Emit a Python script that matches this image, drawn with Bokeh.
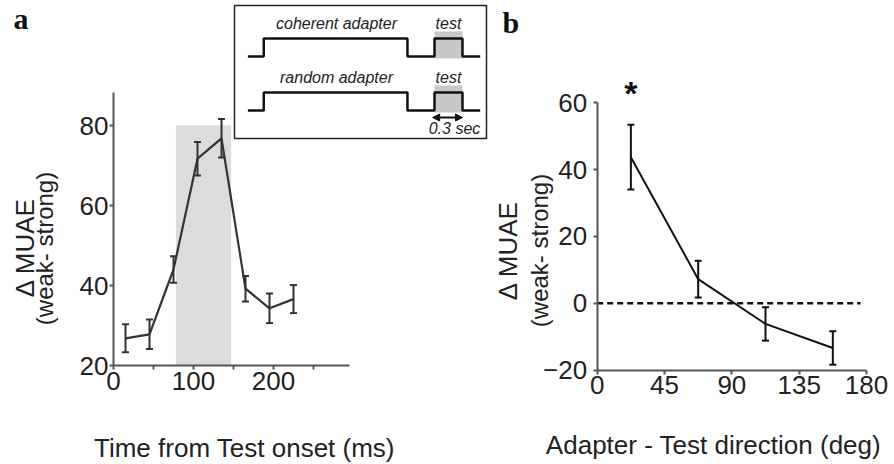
import numpy as np
from bokeh.plotting import figure
from bokeh.layouts import row
from bokeh.models import Range1d, LinearAxis, FixedTicker, Arrow, NormalHead
from bokeh.core.properties import value
from bokeh.embed import file_html
from bokeh.resources import INLINE

# ------------------------- data -------------------------
# panel a: MUAE difference over time from test onset
time_ms = [15, 45, 75, 105, 135, 165, 195, 225]
muae_a = [26.8, 27.8, 44.0, 71.7, 76.8, 39.2, 34.3, 36.6]
sem_a = [3.5, 3.7, 3.3, 4.2, 4.8, 3.2, 3.7, 3.5]
test_window = [78, 147]
test_window_top = 80
a_xticks = [0, 100, 200]
a_xminor = [50, 150, 250]
a_yticks = [20, 40, 60, 80]

# panel b: MUAE difference vs adapter-test direction
direction_deg = [22.5, 67.5, 112.5, 157.5]
muae_b = [43.7, 7.2, -6.2, -13.4]
sem_b = [9.7, 5.5, 5.0, 5.0]
significant = [True, False, False, False]
b_xticks = [0, 45, 90, 135, 180]
b_yticks = [-20, 0, 20, 40, 60]

# inset schematic (seconds relative to test onset, level 0/1)
trace_t = [-2.0, -1.83, -1.83, -0.29, -0.29, 0.0, 0.0, 0.3, 0.3, 0.49]
trace_level = [0, 0, 1, 1, 0, 0, 1, 1, 0, 0]
test_dur = 0.3
inset_rows = ["coherent adapter", "random adapter"]

# ------------------------- layout -------------------------
W_A, W_B, H = 490, 404, 464
FONT = "Liberation Sans"
TXT = "#222222"
AXC = "#555555"
BASE_SHIFT = 0.33   # em: correction for the alphabetic baseline placement
MID_SHIFT = 0.15    # em: correction for the middle baseline placement

# panel a pixel mapping
A_X0, A_XS = 113.0, 0.8
A_Y0, A_YS, A_YREF = 365.0, 4.0, 20.0
def ax(px):
    return (px - A_X0) / A_XS
def ay(py):
    return A_YREF + (A_Y0 - py) / A_YS

# panel b pixel mapping
B_X0, B_XS = 106.7, 1.496
B_Y0, B_YS = 302.7, 3.341
def bx(px):
    return (px - B_X0) / B_XS
def by(py):
    return (B_Y0 - py) / B_YS

def style_axis(a, standoff):
    a.axis_line_color = AXC
    a.axis_line_width = 2
    a.major_tick_line_color = AXC
    a.major_tick_line_width = 2
    a.major_tick_out = 4
    a.major_tick_in = 0
    a.minor_tick_line_color = AXC
    a.minor_tick_line_width = 2
    a.minor_tick_out = 4
    a.minor_tick_in = 0
    a.major_label_standoff = standoff
    a.major_label_text_font = FONT
    a.major_label_text_font_size = "26px"
    a.major_label_text_color = TXT

def make_fig(w, xr, yr):
    p = figure(width=w, height=H, x_range=xr, y_range=yr,
               x_axis_type=None, y_axis_type=None,
               toolbar_location=None, output_backend="svg",
               min_border=0, outline_line_color=None)
    p.background_fill_color = "white"
    p.border_fill_color = "white"
    return p

def htext(p, fx, fy, px, py, s, size, **kw):
    """horizontal text; py is the desired alphabetic baseline in pixels"""
    p.text(x=[fx(px)], y=[fy(py - BASE_SHIFT * size)], text=[s],
           text_baseline="alphabetic", text_font_size=f"{size}px",
           text_font=kw.pop("font", value(FONT)), text_color=kw.pop("color", TXT),
           text_align=kw.pop("align", "center"), **kw)

def vtext(p, fx, fy, px, py, s, size):
    """vertical (rotated) text centred at px, py"""
    p.text(x=[fx(px - MID_SHIFT * size)], y=[fy(py)], text=[s], angle=np.pi / 2,
           text_align="center", text_baseline="middle", text_color=TXT,
           text_font=value(FONT), text_font_size=f"{size}px")

# ------------------------- panel a -------------------------
pa = make_fig(W_A, Range1d(ax(0), ax(W_A)), Range1d(ay(H), ay(0)))

pa.quad(left=[test_window[0]], right=[test_window[1]], bottom=[A_YREF],
        top=[test_window_top], fill_color="#dcdcde", line_color=None)

ta = np.array(time_ms, float)
ma = np.array(muae_a, float)
sa = np.array(sem_a, float)
pa.line(ta, ma, line_color="#333333", line_width=2.2)
pa.segment(x0=ta, y0=ma - sa, x1=ta, y1=ma + sa, line_color="#333333", line_width=2)
pa.scatter(np.concatenate([ta, ta]), np.concatenate([ma - sa, ma + sa]),
           marker="dash", size=7, line_color="#333333", line_width=2)

xa = LinearAxis(fixed_location=A_YREF, bounds=(0, 295),
                ticker=FixedTicker(ticks=a_xticks, minor_ticks=a_xminor))
style_axis(xa, 2)
pa.add_layout(xa, "below")
ya = LinearAxis(fixed_location=0, bounds=(A_YREF, 88.25),
                ticker=FixedTicker(ticks=a_yticks))
style_axis(ya, 1)
pa.add_layout(ya, "left")

vtext(pa, ax, ay, 28, 247, "\u0394 MUAE", 26)
vtext(pa, ax, ay, 48, 248, "(weak- strong)", 24)
htext(pa, ax, ay, 244, 456, "Time from Test onset (ms)", 26)
htext(pa, ax, ay, 13, 28, "a", 30, align="left", color="#111111",
      font=value("Liberation Serif"), text_font_style="bold")

# inset schematic
IN_T0PX, IN_TS = 434.0, 93.3      # px of test onset, px per second
ROW_BASE = [56.0, 110.0]          # baseline px of each trace
STEP = 18.0
def ix(t):
    return ax(IN_T0PX + IN_TS * t)
def ixp(t):
    return IN_T0PX + IN_TS * t

pa.quad(left=[ax(234)], right=[ax(486)], top=[ay(5)], bottom=[ay(138)],
        fill_color=None, line_color="#222222", line_width=1.5)
for base, label in zip(ROW_BASE, inset_rows):
    pa.quad(left=[ix(0)], right=[ix(test_dur)], top=[ay(base - STEP - 7)],
            bottom=[ay(base + 2)], fill_color="#c8c8c8", line_color=None)
    pa.line([ix(t) for t in trace_t], [ay(base - STEP * l) for l in trace_level],
            line_color="#111111", line_width=2.5)
    htext(pa, ax, ay, 336, base - 28, label, 16, text_font_style="italic")
    htext(pa, ax, ay, ixp(test_dur / 2), base - 28, "test", 16,
          text_font_style="italic")

pa.add_layout(Arrow(x_start=ix(-0.02), y_start=ay(117), x_end=ix(test_dur),
                    y_end=ay(117), line_width=2, line_color="#111111",
                    start=NormalHead(size=7, fill_color="#111111", line_color="#111111"),
                    end=NormalHead(size=7, fill_color="#111111", line_color="#111111")))
htext(pa, ax, ay, ixp(test_dur / 2) + 6, 133, "0.3 sec", 16,
      text_font_style="italic")

# ------------------------- panel b -------------------------
pb = make_fig(W_B, Range1d(bx(0), bx(W_B)), Range1d(by(H), by(0)))

pb.line([0, 176], [0, 0], line_color="#111111", line_width=2.5, line_dash="6 4")

tb = np.array(direction_deg, float)
mb = np.array(muae_b, float)
sb = np.array(sem_b, float)
pb.line(tb, mb, line_color="#111111", line_width=2)
pb.segment(x0=tb, y0=mb - sb, x1=tb, y1=mb + sb, line_color="#111111", line_width=2)
pb.scatter(np.concatenate([tb, tb]), np.concatenate([mb - sb, mb + sb]),
           marker="dash", size=7, line_color="#111111", line_width=2)

STAR_SIZE = 34
sig_x = [d for d, s in zip(direction_deg, significant) if s]
pb.text(x=sig_x, y=[by(107 - 0.42 * STAR_SIZE)] * len(sig_x), text=["*"] * len(sig_x),
        text_align="center", text_baseline="alphabetic", text_color="#111111",
        text_font=value(FONT), text_font_style="bold",
        text_font_size=f"{STAR_SIZE}px")

xb = LinearAxis(fixed_location=-20, bounds=(0, 180),
                ticker=FixedTicker(ticks=b_xticks))
style_axis(xb, 2)
pb.add_layout(xb, "below")
yb = LinearAxis(fixed_location=0, bounds=(-20, 60),
                ticker=FixedTicker(ticks=b_yticks))
style_axis(yb, 6)
pb.add_layout(yb, "left")

vtext(pb, bx, by, 21, 250, "\u0394 MUAE", 26)
vtext(pb, bx, by, 53, 250, "(weak- strong)", 24)
htext(pb, bx, by, 223, 453, "Adapter - Test direction (deg)", 26)
htext(pb, bx, by, 12, 32, "b", 30, align="left", color="#111111",
      font=value("Liberation Serif"), text_font_style="bold")

layout = row(pa, pb)
open("out.html", "w").write(file_html(layout, INLINE))
